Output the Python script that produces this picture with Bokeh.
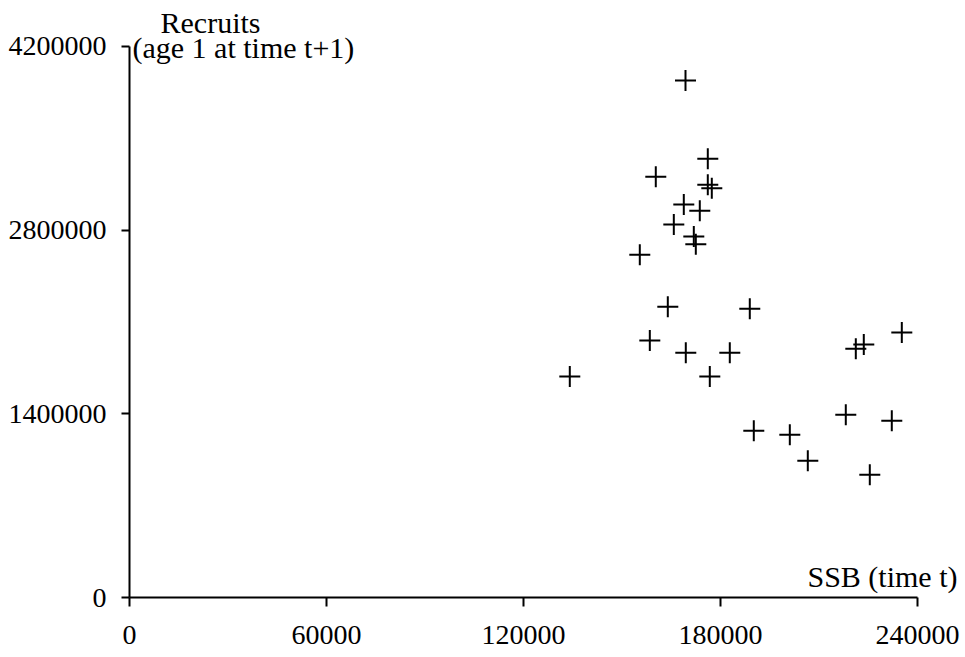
from bokeh.plotting import figure
from bokeh.models import Range1d, FixedTicker, Label
from bokeh.embed import file_html
from bokeh.resources import INLINE

# Spawning stock biomass (time t) and recruits (age 1 at time t+1)
ssb = [169340, 176130, 160290, 176130, 177350, 168820, 173690, 165780, 171870,
       172480, 155420, 163950, 188920, 158470, 169430, 182830, 134100, 176740,
       221210, 223640, 235220, 218160, 232170, 190140, 201110, 206590, 225470]
recruits = [3940800, 3344000, 3206800, 3145800, 3119900, 2995600, 2947600, 2843200, 2751700,
            2693000, 2613000, 2215900, 2200600, 1959000, 1865200, 1865200, 1684600, 1684600,
            1895700, 1928500, 2020000, 1392600, 1346900, 1270700, 1240200, 1042000, 935300]

x_ticks = [0, 60000, 120000, 180000, 240000]
x_tick_labels = ["0", "60000", "120000", "180000", "240000"]
y_ticks = [0, 1400000, 2800000, 4200000]
y_tick_labels = ["0", "1400000", "2800000", "4200000"]

x_title = "SSB (time t)"
y_title = "Recruits"
y_subtitle = "(age 1 at time t+1)"

FONT = "Liberation Serif"
TICK_FS = "28px"
TITLE_FS = "30px"

# frame extends past the axes' ends so that titles lie inside it
p = figure(width=965, height=657, output_backend="svg", toolbar_location=None,
           x_range=Range1d(0, 254619), y_range=Range1d(0, 4550635),
           min_border_left=129, min_border_right=0, min_border_top=0, min_border_bottom=60)
p.outline_line_color = None
p.xgrid.visible = False
p.ygrid.visible = False
p.background_fill_color = "white"
p.border_fill_color = "white"

for ax, ticks, labels, tout, standoff in ((p.xaxis[0], x_ticks, x_tick_labels, 9, 19),
                                          (p.yaxis[0], y_ticks, y_tick_labels, 8, 15)):
    ax.ticker = FixedTicker(ticks=ticks)
    ax.bounds = (ticks[0], ticks[-1])
    ax.major_label_overrides = {t: l for t, l in zip(ticks, labels)}
    ax.major_tick_out = tout
    ax.major_tick_in = 0
    ax.minor_tick_line_color = None
    ax.axis_line_width = 2
    ax.major_tick_line_width = 2
    ax.axis_line_color = "black"
    ax.major_tick_line_color = "black"
    ax.major_label_text_font = FONT
    ax.major_label_text_font_size = TICK_FS
    ax.major_label_text_color = "black"
    ax.major_label_standoff = standoff

p.scatter(ssb, recruits, marker="cross", size=21, line_width=2, line_color="black")

p.add_layout(Label(x=24670, y=4382900, text=y_title, text_align="center", text_baseline="middle",
                   text_font=FONT, text_font_size=TITLE_FS, text_color="black"))
p.add_layout(Label(x=914, y=4192400, text=y_subtitle, text_align="left", text_baseline="middle",
                   text_font=FONT, text_font_size=TITLE_FS, text_color="black"))
p.add_layout(Label(x=252183, y=160070, text=x_title, text_align="right", text_baseline="middle",
                   text_font=FONT, text_font_size=TITLE_FS, text_color="black"))

open("out.html", "w").write(file_html(p, INLINE))
